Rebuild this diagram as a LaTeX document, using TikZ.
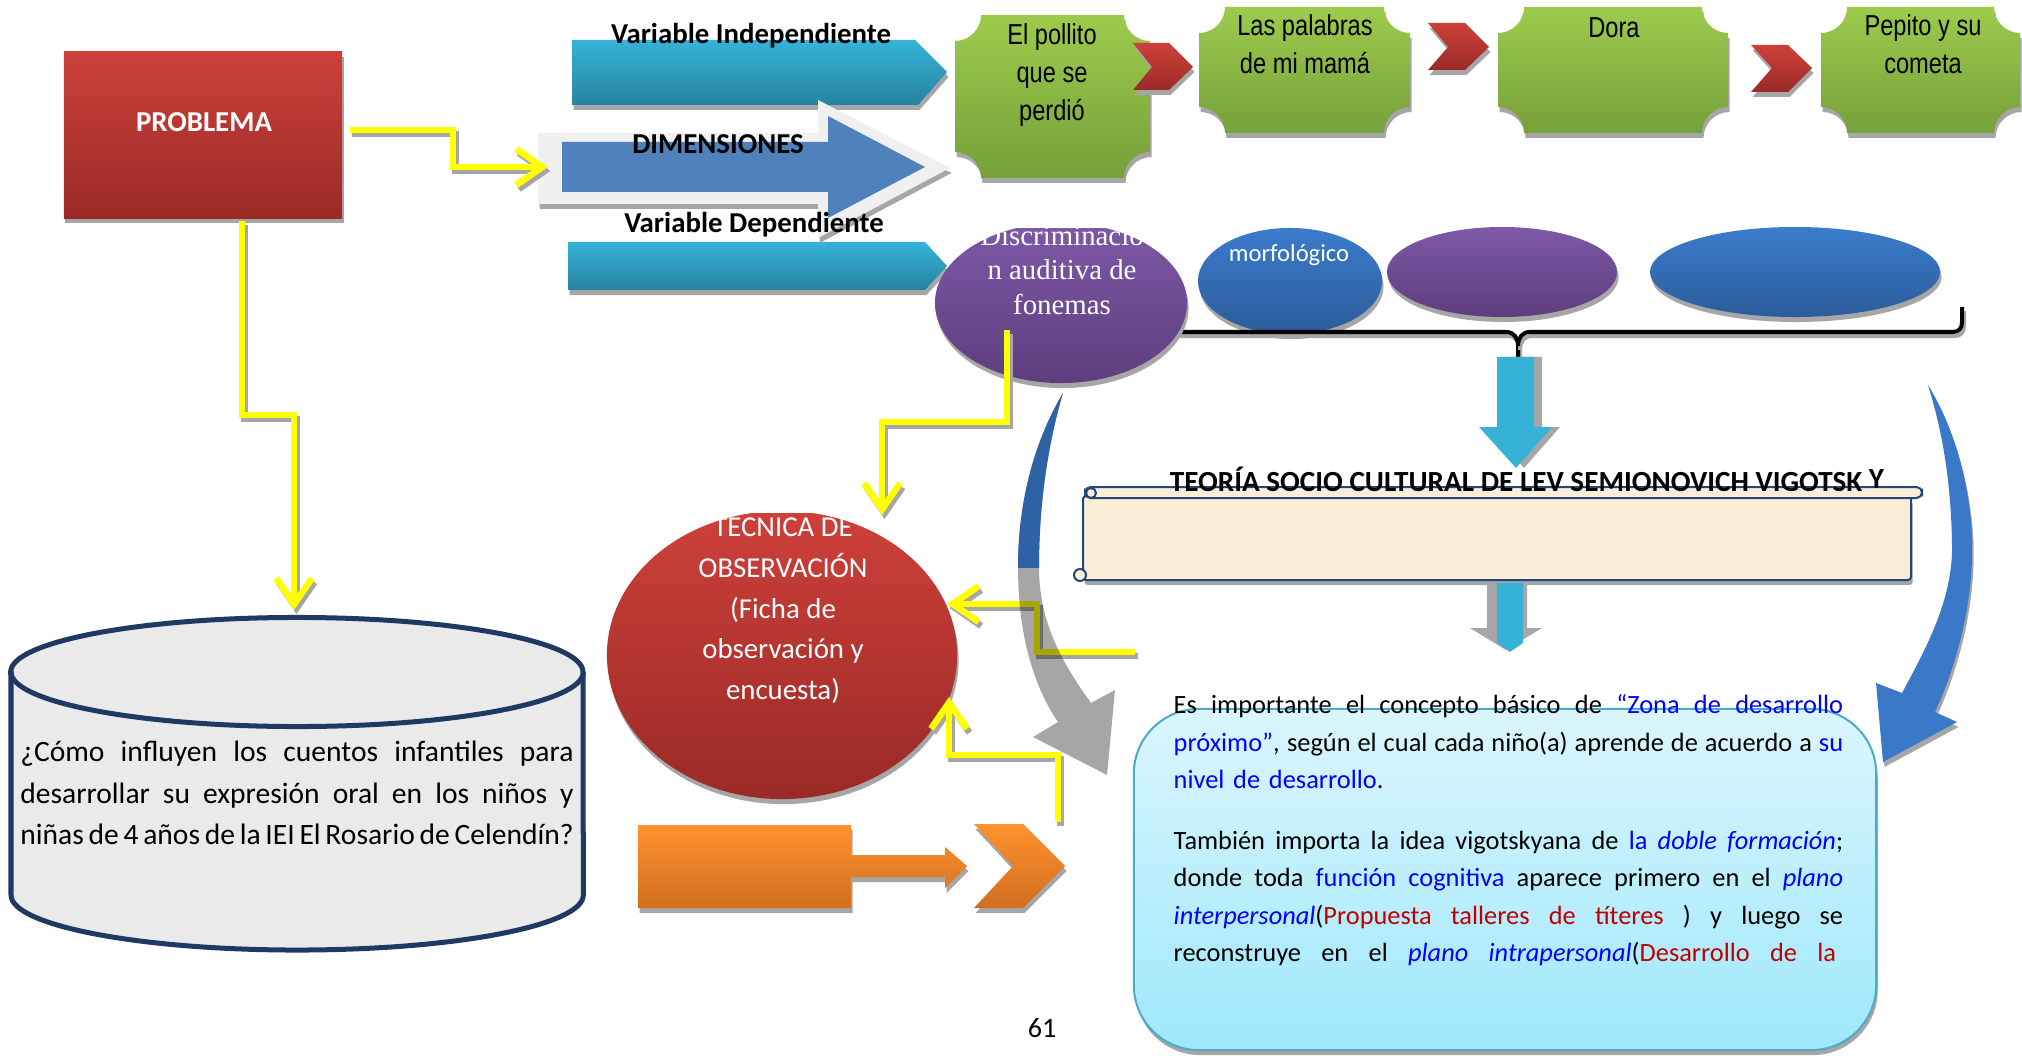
\documentclass[tikz,border=0pt]{standalone}
\usepackage{fontspec}
\setmainfont{Carlito}
\newfontfamily\narrowsans[FakeStretch=0.82]{Liberation Sans}
\newfontfamily\serifTNR{Liberation Serif}
\usetikzlibrary{shadows,arrows.meta}
\definecolor{probtop}{HTML}{CE403A}
\definecolor{probbot}{HTML}{9A2A27}
\definecolor{tealtop}{HTML}{35B3D7}
\definecolor{tealbot}{HTML}{2683A0}
\definecolor{dimblue}{HTML}{4F81BD}
\definecolor{dimglow}{HTML}{F0F0F0}
\definecolor{grtop}{HTML}{9DCB4C}
\definecolor{grbot}{HTML}{76A03A}
\definecolor{purtop}{HTML}{7E59A7}
\definecolor{purbot}{HTML}{5D3E7D}
\definecolor{bltop}{HTML}{3B7CCC}
\definecolor{blbot}{HTML}{2C5C9B}
\definecolor{yel}{HTML}{FFFF00}
\definecolor{shgray}{HTML}{A6A6A6}
\definecolor{ortop}{HTML}{FF922E}
\definecolor{orbot}{HTML}{D16E1F}
\definecolor{cylfill}{HTML}{EAEAEA}
\definecolor{cylline}{HTML}{1F3864}
\definecolor{bxtop}{HTML}{DBF5FD}
\definecolor{bxbot}{HTML}{9FE8FC}
\definecolor{bxline}{HTML}{4BACC6}
\definecolor{scfill}{HTML}{FCEDD6}
\definecolor{scline}{HTML}{1F497D}
\definecolor{tealarr}{HTML}{35B2D5}
\definecolor{curblue}{HTML}{3A78C8}
\definecolor{curblue2}{HTML}{2E62A4}
\definecolor{tblue}{HTML}{0000FF}
\definecolor{tred}{HTML}{C00000}
\newcommand\plaque[6]{%
 \path[#1] ({#2+#6},#3) -- ({#4-#6},#3) .. controls ({#4-#6},{#3+0.55*#6}) and ({#4-0.55*#6},{#3+#6}) .. (#4,{#3+#6})
 -- (#4,{#5-#6}) .. controls ({#4-0.55*#6},{#5-#6}) and ({#4-#6},{#5-0.55*#6}) .. ({#4-#6},#5)
 -- ({#2+#6},#5) .. controls ({#2+#6},{#5-0.55*#6}) and ({#2+0.55*#6},{#5-#6}) .. (#2,{#5-#6})
 -- (#2,{#3+#6}) .. controls ({#2+0.55*#6},{#3+#6}) and ({#2+#6},{#3+0.55*#6}) .. ({#2+#6},#3) -- cycle;}
\newcommand\jline[2]{\makebox[#1][s]{\spaceskip=0pt\xspaceskip=0pt #2}}
\begin{document}
\begin{tikzpicture}[x=0.01cm, y=-0.01cm,
 sh/.style={drop shadow={shadow xshift=0.015cm, shadow yshift=-0.05cm, fill=shgray, opacity=1}},
 shr/.style={drop shadow={shadow xshift=0.08cm, shadow yshift=0cm, fill=shgray, opacity=1}},
 ylw/.style={draw=yel, line width=0.065cm, -{Straight Barb[length=0.26cm,width=0.36cm]},
   preaction={draw=shgray, line width=0.065cm, transform canvas={shift={(0.025cm,-0.04cm)}}}},
 brace/.style={draw=black, line width=0.04cm, preaction={draw=shgray, line width=0.04cm, transform canvas={shift={(0.02cm,-0.04cm)}}}},
 lbl/.style={font=\fontsize{8.2pt}{10pt}\selectfont\bfseries, inner sep=0pt},
 gtext/.style={font=\narrowsans\fontsize{8.2pt}{10.8pt}\selectfont, align=center, inner sep=0pt},
 ptext/.style={font=\fontsize{7.5pt}{10.67pt}\selectfont, text width=6.69cm, align=left, inner sep=0pt, anchor=north west},
 scroll/.style={fill=scfill, draw=scline, line width=0.02cm},
]
\useasboundingbox[fill=white] (0,0) rectangle (2022,1058);

% PROBLEMA
\node[sh, minimum width=2.78cm, minimum height=1.66cm, top color=probtop, bottom color=probbot, inner sep=0pt] (problema) at (203,135) {};
\node[lbl, text=white] (problemat) at (204,122) {PROBLEMA};

% variable arrows
\path[sh, top color=tealtop, bottom color=tealbot] (572,40) -- (915,40) -- (947,72) -- (918,105) -- (572,105) -- cycle;
\path[sh, top color=tealtop, bottom color=tealbot] (568,242) -- (925,242) -- (947,266) -- (925,290) -- (568,290) -- cycle;
\path[sh, fill=dimglow] (538,133) -- (818,133) -- (818,100) -- (950,168) -- (818,238) -- (818,204) -- (538,204) -- cycle;
\path[fill=dimblue] (562,142) -- (828,142) -- (828,116) -- (925,167) -- (828,218) -- (828,192) -- (562,192) -- cycle;
\coordinate (dimtail) at (548,167);
\node[lbl] (vi) at (751,36) {Variable Independiente};
\node[lbl] (dimt) at (718,144) {DIMENSIONES};
\node[lbl] (vd) at (754,225) {Variable Dependiente};

% green plaques
\plaque{sh, top color=grtop, bottom color=grbot}{955}{15}{1150}{178}{26}
\plaque{sh, top color=grtop, bottom color=grbot}{1199}{7}{1410}{133}{26}
\plaque{sh, top color=grtop, bottom color=grbot}{1498}{7}{1728}{133}{26}
\plaque{sh, top color=grtop, bottom color=grbot}{1821}{7}{2020}{133}{26}
\node[gtext] (g1) at (1052,75) {El pollito\\que se\\perdió};
\node[gtext] (g2) at (1305,44) {Las palabras\\de mi mamá};
\node[gtext] (g3) at (1614,28) {Dora};
\node[gtext] (g4) at (1923,44) {Pepito y su\\cometa};

% chevrons
\path[sh, top color=probtop, bottom color=probbot] (1133,43) -- (1169,43) -- (1193,67) -- (1169,90) -- (1133,90) -- (1152,67) -- cycle;
\path[sh, top color=probtop, bottom color=probbot] (1428,23) -- (1465,23) -- (1489,47) -- (1465,70) -- (1428,70) -- (1448,47) -- cycle;
\path[sh, top color=probtop, bottom color=probbot] (1751,45) -- (1788,45) -- (1812,68) -- (1788,92) -- (1751,92) -- (1772,68) -- cycle;

% ellipses
\begin{scope}
\clip (0,228) rectangle (2022,1058);
\path[sh, top color=bltop, bottom color=blbot] (1290,281) ellipse [x radius=0.92cm, y radius=0.53cm];
\path[sh, top color=purtop, bottom color=purbot] (1502,272) ellipse [x radius=1.15cm, y radius=0.45cm];
\path[sh, top color=bltop, bottom color=blbot] (1795,272) ellipse [x radius=1.45cm, y radius=0.45cm];
\end{scope}
\draw[brace] (1150,332) -- (1506,332) .. controls (1514,332) and (1518,338) .. (1518,346) -- (1518,358);
\draw[brace] (1518,346) .. controls (1518,338) and (1522,332) .. (1530,332) -- (1953,332) .. controls (1959,332) and (1962,328) .. (1962,322) -- (1962,307);
\begin{scope}
\clip (0,229) rectangle (2022,1058);
\path[sh, top color=purtop, bottom color=purbot] (1061,303) ellipse [x radius=1.26cm, y radius=0.80cm];
\end{scope}
\node[font=\serifTNR\fontsize{8.2pt}{9.8pt}\selectfont, text=white, align=center, inner sep=0pt] (disc) at (1062,270) {Discriminació\\n auditiva de\\fonemas};
\node[font=\fontsize{7pt}{8pt}\selectfont, text=white, inner sep=0pt] (morfo) at (1289,255) {morfológico};

% teal arrow A
\path[shr, fill=tealarr] (1497,357) -- (1534,357) -- (1534,427) -- (1552,427) -- (1516,468) -- (1479,427) -- (1497,427) -- cycle;

% scroll
\draw[scroll, sh, rounded corners=0.03cm] (1083,496) rectangle (1911,580);
\draw[scroll, rounded corners=0.055cm] (1085,487) rectangle (1922,498);
\draw[scroll] (1091,493) circle[radius=0.05cm];
\draw[scroll] (1080,575) circle[radius=0.06cm];
\node[lbl, font=\fontsize{8.3pt}{10pt}\selectfont\bfseries, anchor=base] (teoria) at (1527,491) {TEORÍA SOCIO CULTURAL DE LEV SEMIONOVICH VIGOTSK \raisebox{0.03cm}{Y}};

% teal arrow B
\path[fill=shgray] (1487,583) -- (1527,583) -- (1527,628) -- (1542,628) -- (1506,650) -- (1470,628) -- (1487,628) -- cycle;
\path[fill=tealarr] (1497,583) -- (1523,583) -- (1523,643) -- (1510,652) -- (1497,643) -- cycle;

% right curved arrow
\path[sh, fill=curblue] (1928,385) .. controls (1962,440) and (1974,510) .. (1972,560) .. controls (1970,620) and (1952,675) .. (1935,712) -- (1957,722) -- (1883,762) -- (1876,683) -- (1902,693) .. controls (1925,650) and (1953,600) .. (1952,545) .. controls (1951,480) and (1942,430) .. (1928,385) -- cycle;

% blue text box
\node[sh, draw=bxline, line width=0.02cm, top color=bxtop, bottom color=bxbot, rounded corners=0.65cm, minimum width=7.42cm, minimum height=3.41cm, inner sep=0pt] (vbox) at (1505,879.5) {};
\node[ptext] (par1) at (1173,694) {%
\jline{6.69cm}{Es importante el concepto básico de \textcolor{tblue}{“Zona de desarrollo}}\\
\jline{6.69cm}{\textcolor{tblue}{próximo”}, según el cual cada niño(a) aprende de acuerdo a \textcolor{tblue}{su}}\\
\textcolor{tblue}{nivel de desarrollo}.};
\node[ptext] (par2) at (1173,830) {%
\jline{6.69cm}{También importa la idea vigotskyana de \textcolor{tblue}{la \textit{doble formación}};}\\
\jline{6.69cm}{donde toda \textcolor{tblue}{función cognitiva} aparece primero en el \textcolor{tblue}{\textit{plano}}}\\
\jline{6.69cm}{\textcolor{tblue}{\textit{interpersonal}}(\textcolor{tred}{Propuesta talleres de títeres} ) y luego se}\\
\jline{6.62cm}{reconstruye en el \textcolor{tblue}{\textit{plano intrapersonal}}(\textcolor{tred}{Desarrollo de la}}};

% red circle
\begin{scope}
\clip (0,513) rectangle (2022,1058);
\path[sh, top color=probtop, bottom color=probbot] (782,655) ellipse [x radius=1.75cm, y radius=1.44cm];
\end{scope}
\node[font=\fontsize{8.2pt}{11.6pt}\selectfont, text=white, align=center, inner sep=0pt] (tecnica) at (783,608) {TÉCNICA DE\\OBSERVACIÓN\\(Ficha de\\observación y\\encuesta)};

% yellow connectors
\coordinate (cyltop) at (294,610);
\coordinate (e1out) at (1007,330);
\coordinate (tectop) at (882,515);
\coordinate (y4s) at (1135,652);
\coordinate (tecright) at (947,604);
\coordinate (y5s) at (1058,822);
\coordinate (tecbot) at (949,697);
\draw[ylw] ([xshift=0.07cm,yshift=0.05cm]problema.east) -| (453,167) -- (dimtail);
\draw[ylw] ([xshift=0.39cm,yshift=-0.02cm]problema.south) |- (294,415) -- (cyltop);
\draw[ylw] (e1out) |- (882,422) -- (tectop);
\draw[ylw] (y4s) -| (1037,604) -- (tecright);
\draw[ylw] (y5s) |- (949,755) -- (tecbot);

% left curved arrow
\begin{scope}[blend mode=multiply]
\path[fill=shgray] (1063,393) .. controls (1035,440) and (1018,500) .. (1018,567) .. controls (1018,640) and (1036,690) .. (1058,722) -- (1033,737) -- (1107,775) -- (1115,690) -- (1091,703) .. controls (1060,660) and (1039,620) .. (1039,567) .. controls (1039,500) and (1049,440) .. (1063,393) -- cycle;
\end{scope}
\begin{scope}
\clip (900,380) rectangle (1120,567);
\path[fill=curblue2] (1063,393) .. controls (1035,440) and (1018,500) .. (1018,567) .. controls (1018,640) and (1036,690) .. (1058,722) -- (1033,737) -- (1107,775) -- (1115,690) -- (1091,703) .. controls (1060,660) and (1039,620) .. (1039,567) .. controls (1039,500) and (1049,440) .. (1063,393) -- cycle;
\end{scope}

% orange arrows
\path[sh, top color=ortop, bottom color=orbot] (638,825) -- (851,825) -- (851,855) -- (945,855) -- (945,847) -- (967,866) -- (945,888) -- (945,877) -- (851,877) -- (851,908) -- (638,908) -- cycle;
\path[sh, top color=ortop, bottom color=orbot] (974,824) -- (1023,824) -- (1065,866) -- (1023,908) -- (974,908) -- (1013,866) -- cycle;

% cylinder
\path[fill=cylfill, draw=cylline, line width=0.05cm] (11,672) -- (11,895) arc[start angle=180, end angle=360, x radius=2.86cm, y radius=0.55cm] -- (583,672) arc[start angle=0, end angle=180, x radius=2.86cm, y radius=0.545cm] -- cycle;
\draw[cylline, line width=0.05cm] (11,672) arc[start angle=180, end angle=360, x radius=2.86cm, y radius=0.545cm];
\node[font=\fontsize{8.4pt}{11.8pt}\selectfont, text width=5.53cm, align=left, inner sep=0pt] (pregunta) at (297,793) {%
\jline{5.53cm}{¿Cómo influyen los cuentos infantiles para}\\
\jline{5.53cm}{desarrollar su expresión oral en los niños y}\\
\jline{5.53cm}{niñas de 4 años de la IEI El Rosario de Celendín?}};

\node[font=\fontsize{8pt}{10pt}\selectfont, inner sep=0pt] (pagenum) at (1042,1028) {61};
\end{tikzpicture}
\end{document}
